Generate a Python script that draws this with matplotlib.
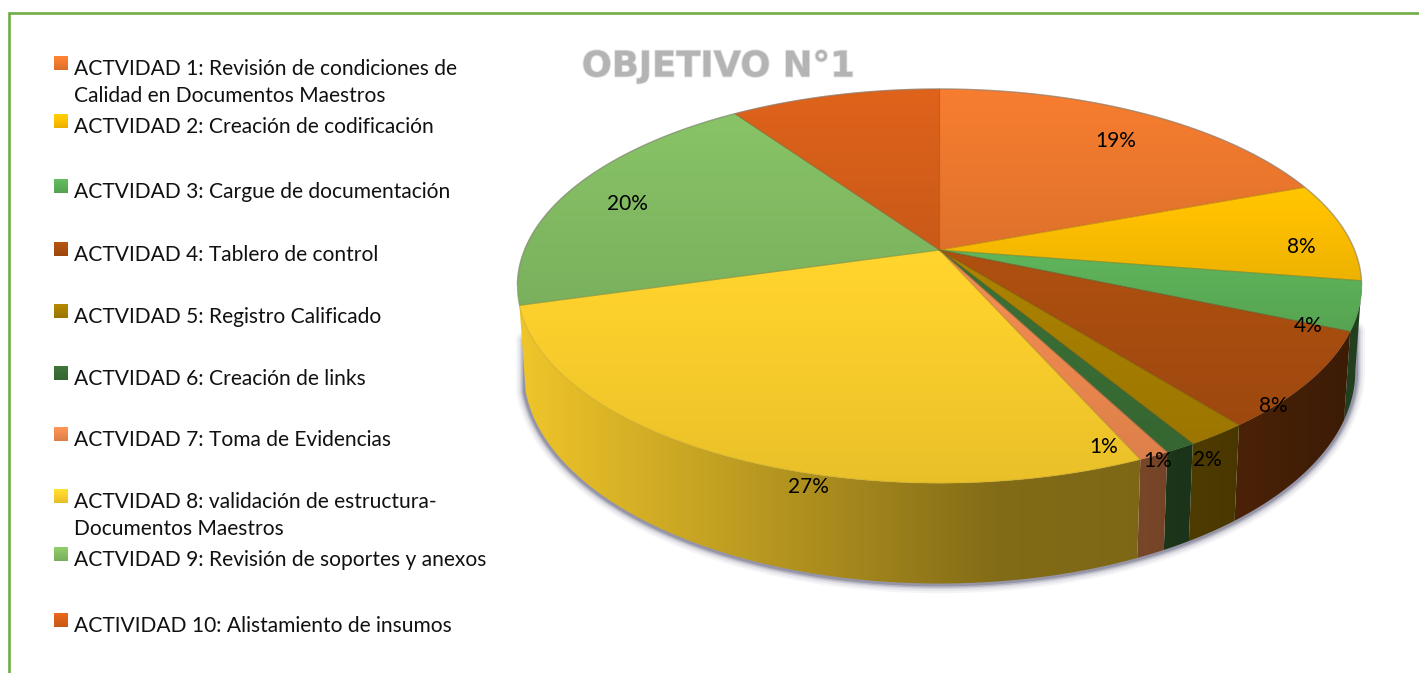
#!/usr/bin/env python
# -*- coding:utf-8 -*-

import numpy as np
import matplotlib
matplotlib.use('Agg')
import matplotlib.pyplot as plt
import matplotlib.patheffects as pe
from matplotlib.path import Path
from matplotlib.patches import PathPatch

labels = ['ACTVIDAD 1: Revisión de condiciones de\nCalidad en Documentos Maestros',
	'ACTVIDAD 2: Creación de codificación',
	'ACTVIDAD 3: Cargue de documentación',
	'ACTVIDAD 4: Tablero de control',
	'ACTVIDAD 5: Registro Calificado',
	'ACTVIDAD 6: Creación de links',
	'ACTVIDAD 7: Toma de Evidencias',
	'ACTVIDAD 8: validación de estructura-\nDocumentos Maestros',
	'ACTVIDAD 9: Revisión de soportes y anexos',
	'ACTIVIDAD 10: Alistamiento de insumos']
values = [19.3, 8.2, 4.0, 7.9, 2.0, 1.0, 1.0, 27.15, 19.85, 9.6]
pct_text = ['19%', '8%', '4%', '8%', '2%', '1%', '1%', '27%', '20%', '']
colors = ['#F07A2E', '#FFC000', '#5DB058', '#AA4E10', '#A87F00',
	'#3A6E35', '#EF8A50', '#FBCF2C', '#84BE64', '#D9601A']

# layout, in pixels of the picture
pct_xy = [(1116, 141), (1301, 247), (1308, 326), (1273, 406), (1207, 460),
	(1158, 461), (1104, 447), (808, 487), (627, 204), (0, 0)]
legend_base = [75, 133, 198, 261, 323, 385, 446, 508, 566, 632]
cx, cy, a, b, k, h0, shrink = 939.5, 250, 415, 190.5, 0.183, 82, 0.985


def project(theta):
	t = np.radians(theta)
	u, v = np.sin(t), np.cos(t)
	w = 1 + k * v
	return cx + a * u / w, cy - b * v / w, h0 / w


def shade_x(x):
	return np.interp(x, [520, 1000, 1150, 1340], [0.95, 0.52, 0.5, 0.36])


def grad_fill(ax, xs, ys, rgb_img, extent, z):
	im = ax.imshow(rgb_img, extent=extent, aspect='auto', zorder=z,
		interpolation='bilinear')
	patch = PathPatch(Path(np.column_stack([xs, ys]), closed=False),
		transform=ax.transData)
	im.set_clip_path(patch)


fig = plt.figure(figsize=(14.19, 6.73), dpi=100)
ax = fig.add_axes([0, 0, 1, 1])
ax.axis('off')

# frame, open at the bottom
ax.plot([1419, 9, 9], [12.5, 12.5, 673], color='#70AD47', lw=1.9, zorder=1,
	solid_joinstyle='miter')

# angles of the slices
edges = np.concatenate([[0], np.cumsum(values)]) / np.sum(values) * 360.0
th_lo, th_hi = 100.5, edges[8]

# soft shadow below the wall
th = np.linspace(th_lo, th_hi, 200)
px, py, ph = project(th)
qx = cx + (px - cx) * shrink
sx = np.concatenate([[qx[0]], qx, [qx[-1]]])
sy = np.concatenate([[py[0] + 45], py + ph, [py[-1] + 35]])
for lw, al in zip([14, 11, 8, 6, 4], [0.05, 0.08, 0.13, 0.2, 0.3]):
	ax.plot(sx, sy, color='#4A4A68', lw=lw, alpha=al, zorder=2,
		solid_capstyle='round')

# wall
for i, c in enumerate(colors):
	t0, t1 = max(edges[i], th_lo), min(edges[i + 1], th_hi)
	if t1 <= t0:
		continue
	th = np.linspace(t0, t1, 60)
	px, py, ph = project(th)
	qx = cx + (px - cx) * shrink
	xs = np.concatenate([px, qx[::-1]])
	ys = np.concatenate([py, (py + ph)[::-1]])
	x0, x1 = xs.min() - 1, xs.max() + 1
	gx = np.linspace(x0, x1, 64)
	base = np.array(matplotlib.colors.to_rgb(c))
	img = (base[None, :] * shade_x(gx)[:, None])[None, :, :]
	grad_fill(ax, xs, ys, np.clip(img, 0, 1), (x0, x1, ys.max() + 1, ys.min() - 1), 3)

# top face
for i, c in enumerate(colors):
	th = np.linspace(edges[i], edges[i + 1], 80)
	px, py, ph = project(th)
	xs = np.concatenate([[cx], px, [cx]])
	ys = np.concatenate([[cy], py, [cy]])
	y0, y1 = ys.min() - 1, ys.max() + 1
	f = np.linspace(1.03, 0.93, 32)
	base = np.array(matplotlib.colors.to_rgb(c))
	img = (base[None, :] * f[:, None])[:, None, :]
	grad_fill(ax, xs, ys, np.clip(img, 0, 1), (xs.min() - 1, xs.max() + 1, y1, y0), 4)
	ax.plot(xs, ys, color=base * 0.75, lw=0.8, alpha=0.45, zorder=5)

# grey rim along the back
th = np.linspace(-100, 100, 300)
px, py, ph = project(th)
ax.plot(px, py, color='#8E8A80', lw=1.0, alpha=0.55, zorder=5)

for s, (x, y) in zip(pct_text, pct_xy):
	if s:
		ax.text(x, y, s, fontsize=15, family='Lato', color='black', ha='center',
			va='center', zorder=6)

ax.text(718, 76.5, 'OBJETIVO N°1', fontsize=25.5, family='DejaVu Sans', weight='bold',
	color='#B4B4B4', ha='center', va='baseline', zorder=6,
	path_effects=[pe.withStroke(linewidth=1.2, foreground='#E0E0E0')])

# legend
for s, c, yb in zip(labels, colors, legend_base):
	base = np.array(matplotlib.colors.to_rgb(c))
	f = np.linspace(1.08, 0.92, 14)
	img = np.clip((base[None, :] * f[:, None])[:, None, :], 0, 1)
	ax.imshow(img, extent=(54, 68, yb - 5, yb - 19), aspect='auto', zorder=6,
		interpolation='bilinear')
	for j, line in enumerate(s.split('\n')):
		ax.text(74, yb + 27 * j, line, fontsize=15.1, family='Lato', color='#111111',
			ha='left', va='baseline', zorder=6)

ax.set_xlim(0, 1419)
ax.set_ylim(673, 0)
fig.savefig('out.png', dpi=100, facecolor='white')
